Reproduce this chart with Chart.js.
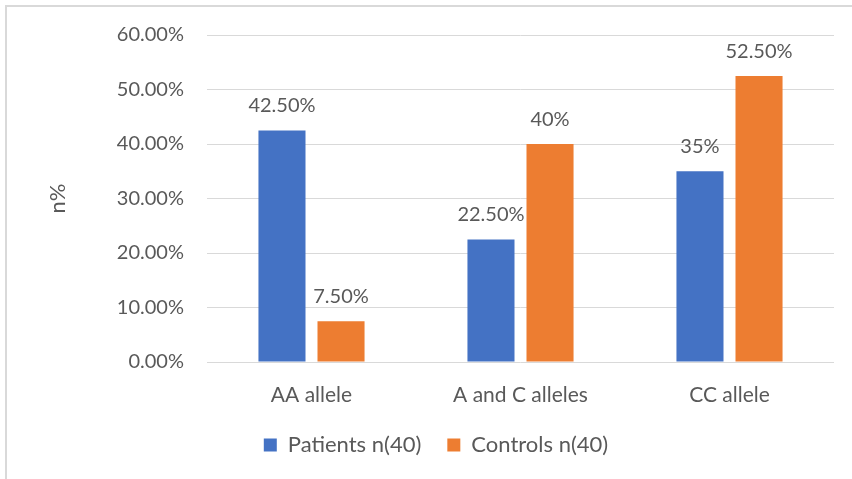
<!DOCTYPE html>
<html>
<head>
<meta charset="utf-8">
<script src="https://cdn.jsdelivr.net/npm/chart.js@4"></script>
<style>
  html, body { margin: 0; padding: 0; background: #fff; }
  canvas { display: block; }
</style>
</head>
<body>
<canvas id="chart" width="852" height="479"></canvas>
<script>
// Genotype distribution, percent of each group
const categories = ['AA allele', 'A and C alleles', 'CC allele'];
const patients = [42.5, 22.5, 35];
const controls = [7.5, 40, 52.5];
const yTicks = [0, 10, 20, 30, 40, 50, 60];
const seriesNames = ['Patients n(40)', 'Controls n(40)'];

const FONT = 'Lato, "Open Sans", sans-serif';
const TEXT = '#595959';

function pctLabel(v) {
  return Number.isInteger(v) ? v + '%' : v.toFixed(2) + '%';
}

// white background and light frame along the top and left edges
const frame = {
  id: 'frame',
  beforeDraw(chart) {
    const ctx = chart.ctx;
    ctx.save();
    ctx.fillStyle = '#ffffff';
    ctx.fillRect(0, 0, chart.width, chart.height);
    ctx.fillStyle = '#d9d9d9';
    ctx.fillRect(5, 5, chart.width - 5, 2);
    ctx.fillRect(5, 5, 2, chart.height - 5);
    ctx.restore();
  }
};

// value labels above each bar
const valueLabels = {
  id: 'valueLabels',
  afterDatasetsDraw(chart) {
    const ctx = chart.ctx;
    ctx.save();
    ctx.font = '20px ' + FONT;
    ctx.fillStyle = TEXT;
    ctx.textAlign = 'center';
    ctx.textBaseline = 'alphabetic';
    chart.data.datasets.forEach((ds, i) => {
      chart.getDatasetMeta(i).data.forEach((bar, j) => {
        ctx.fillText(pctLabel(ds.data[j]), bar.x, bar.y - 18);
      });
    });
    ctx.restore();
  }
};

new Chart(document.getElementById('chart'), {
  type: 'bar',
  data: {
    labels: categories,
    datasets: [
      { label: seriesNames[0], data: patients, backgroundColor: '#4472C4',
        categoryPercentage: 0.565, barPercentage: 0.797 },
      { label: seriesNames[1], data: controls, backgroundColor: '#ED7D31',
        categoryPercentage: 0.565, barPercentage: 0.797 }
    ]
  },
  options: {
    responsive: false,
    animation: false,
    layout: { padding: { left: 38, right: 18, top: 35, bottom: 13 } },
    plugins: {
      legend: {
        position: 'bottom',
        labels: {
          boxWidth: 13, boxHeight: 13, padding: 26,
          color: TEXT, font: { family: FONT, size: 22 }
        }
      },
      tooltip: { enabled: false }
    },
    scales: {
      x: {
        afterFit(scale) { scale.height = 46; },
        grid: { display: false },
        border: { display: false },
        ticks: { color: TEXT, font: { family: FONT, size: 21 }, padding: 13 }
      },
      y: {
        min: 0, max: 60,
        afterBuildTicks(scale) { scale.ticks = yTicks.map(v => ({ value: v })); },
        afterFit(scale) { scale.width = 169; },
        grid: { color: '#d9d9d9', lineWidth: 1, drawTicks: false },
        border: { display: false },
        ticks: {
          color: TEXT, font: { family: FONT, size: 20 }, padding: 23,
          callback: v => v.toFixed(2) + '%'
        },
        title: {
          display: true, text: 'n%', color: TEXT,
          font: { family: FONT, size: 22 }, padding: { top: 7, bottom: 0 }
        }
      }
    }
  },
  plugins: [frame, valueLabels]
});
</script>
</body>
</html>
